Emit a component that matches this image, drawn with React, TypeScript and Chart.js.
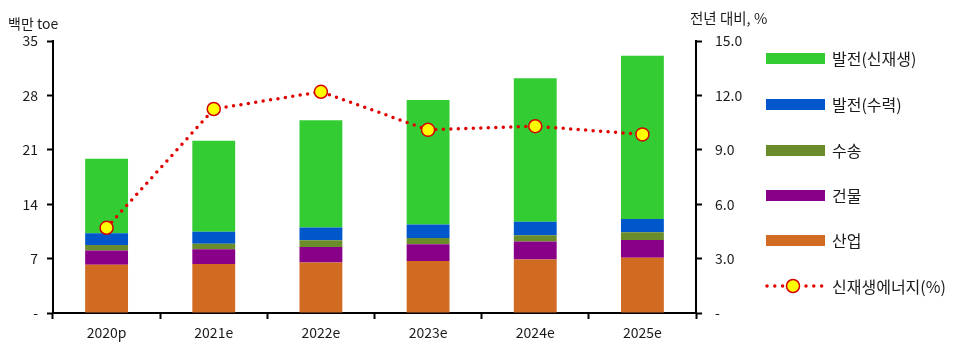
import React, { useEffect, useRef } from "react";
import { Chart, registerables } from "chart.js";

Chart.register(...registerables);

const categories = ["2020p", "2021e", "2022e", "2023e", "2024e", "2025e"];
const industry = [6.2, 6.3, 6.5, 6.7, 6.9, 7.1];
const building = [1.85, 1.9, 2.0, 2.15, 2.3, 2.3];
const transport = [0.7, 0.7, 0.85, 0.8, 0.8, 1.0];
const hydro = [1.5, 1.55, 1.65, 1.75, 1.75, 1.7];
const renewable = [9.6, 11.7, 13.8, 16.0, 18.45, 21.0];
const growth = [4.7, 11.25, 12.2, 10.1, 10.3, 9.85];

const leftTitle = "백만 toe";
const rightTitle = "전년 대비, %";

const barSeries = [
  { label: "발전(신재생)", data: renewable, color: "#33CC33" },
  { label: "발전(수력)", data: hydro, color: "#0057CC" },
  { label: "수송", data: transport, color: "#6B8C2A" },
  { label: "건물", data: building, color: "#880088" },
  { label: "산업", data: industry, color: "#D26B22" },
];
const lineLabel = "신재생에너지(%)";

const FONT = "'Noto Sans CJK KR', 'Noto Sans', sans-serif";
const TEXT = "#1a1a1a";

export default function App() {
  const ref = useRef<HTMLCanvasElement | null>(null);

  useEffect(() => {
    if (!ref.current) return;
    const stackOrder = [...barSeries].reverse();
    const chart = new Chart(ref.current, {
      type: "bar",
      data: {
        labels: categories,
        datasets: [
          {
            type: "line",
            label: lineLabel,
            data: growth,
            yAxisID: "y2",
            order: 0,
            borderColor: "#E00000",
            borderWidth: 3.5,
            borderDash: [0, 7.5],
            borderCapStyle: "round",
            pointRadius: 6.5,
            pointBackgroundColor: "#FFFF00",
            pointBorderColor: "#D40000",
            pointBorderWidth: 1.5,
            tension: 0,
            fill: false,
          } as any,
          ...stackOrder.map((s) => ({
            type: "bar" as const,
            label: s.label,
            data: s.data,
            backgroundColor: s.color,
            borderWidth: 0,
            yAxisID: "y",
            stack: "s",
            order: 1,
            barPercentage: 0.4,
            categoryPercentage: 1.0,
          })),
        ],
      },
      options: {
        responsive: false,
        animation: false,
        layout: { padding: { left: 0, right: 198, top: 41, bottom: 0 } },
        plugins: {
          legend: { display: false },
          tooltip: { enabled: false },
        },
        scales: {
          x: {
            stacked: true,
            offset: true,
            grid: {
              offset: true,
              drawOnChartArea: false,
              drawTicks: true,
              tickLength: 6,
              tickColor: "#000",
              tickWidth: 2,
            },
            border: { display: true, color: "#000", width: 2 },
            ticks: {
              color: TEXT,
              padding: 5,
              font: { family: FONT, size: 14 },
            },
            afterFit: (s: any) => {
              s.height = 38;
            },
          },
          y: {
            type: "linear",
            position: "left",
            stacked: true,
            min: 0,
            max: 35,
            grid: {
              drawOnChartArea: false,
              drawTicks: true,
              tickLength: 6,
              tickColor: "#000",
              tickWidth: 2,
            },
            border: { display: true, color: "#000", width: 2 },
            ticks: {
              stepSize: 7,
              color: TEXT,
              padding: 9,
              font: { family: FONT, size: 14 },
              callback: (v: any) => (Number(v) === 0 ? "-" : String(v)),
            },
            afterFit: (s: any) => {
              s.width = 53;
            },
          },
          y2: {
            type: "linear",
            position: "right",
            min: 0,
            max: 15,
            grid: {
              drawOnChartArea: false,
              drawTicks: true,
              tickLength: 6,
              tickColor: "#000",
              tickWidth: 2,
            },
            border: { display: true, color: "#000", width: 2 },
            ticks: {
              stepSize: 3,
              color: TEXT,
              padding: 13,
              font: { family: FONT, size: 14 },
              callback: (v: any) => (Number(v) === 0 ? "-" : Number(v).toFixed(1)),
            },
            afterFit: (s: any) => {
              s.width = 60;
            },
          },
        },
      },
    });
    return () => chart.destroy();
  }, []);

  const legendTop = [58, 104, 150, 195, 240];

  return (
    <div
      style={{
        position: "fixed",
        left: 0,
        top: 0,
        width: 954,
        height: 351,
        background: "#fff",
        fontFamily: FONT,
        color: TEXT,
      }}
    >
      <canvas ref={ref} width={954} height={351} style={{ position: "absolute", left: 0, top: 0 }} />
      <div style={{ position: "absolute", left: 8, top: 13, fontSize: 14, lineHeight: "20px", whiteSpace: "nowrap" }}>
        {leftTitle}
      </div>
      <div style={{ position: "absolute", left: 690, top: 8, fontSize: 14.5, lineHeight: "20px", whiteSpace: "nowrap" }}>
        {rightTitle}
      </div>
      {barSeries.map((s, i) => (
        <div key={s.label}>
          <div
            style={{
              position: "absolute",
              left: 766,
              top: legendTop[i] - 5.5,
              width: 59,
              height: 11,
              background: s.color,
            }}
          />
          <div
            style={{
              position: "absolute",
              left: 832,
              top: legendTop[i] - 11,
              fontSize: 16,
              lineHeight: "22px",
              whiteSpace: "nowrap",
            }}
          >
            {s.label}
          </div>
        </div>
      ))}
      <svg style={{ position: "absolute", left: 760, top: 276 }} width={70} height={20}>
        <line
          x1={7}
          y1={10}
          x2={64}
          y2={10}
          stroke="#E00000"
          strokeWidth={3.5}
          strokeLinecap="round"
          strokeDasharray="0 7.8"
        />
        <circle cx={33} cy={10} r={6.5} fill="#FFFF00" stroke="#D40000" strokeWidth={1.5} />
      </svg>
      <div
        style={{
          position: "absolute",
          left: 832,
          top: 286 - 11,
          fontSize: 16,
          lineHeight: "22px",
          whiteSpace: "nowrap",
        }}
      >
        {lineLabel}
      </div>
    </div>
  );
}
